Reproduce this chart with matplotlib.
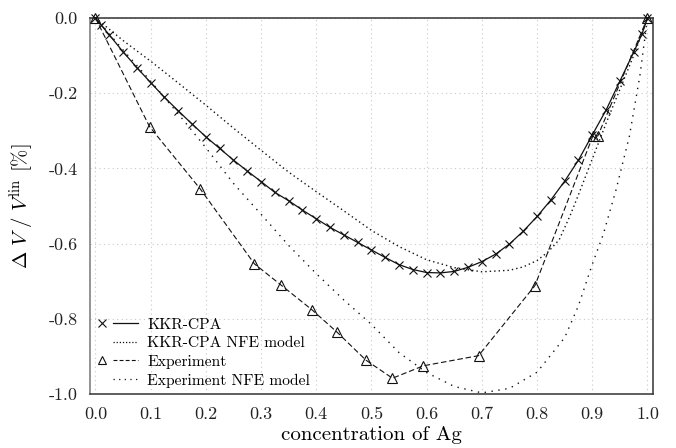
import matplotlib
matplotlib.use("Agg")
import matplotlib.pyplot as plt
from matplotlib.lines import Line2D
from matplotlib.legend_handler import HandlerBase

plt.rcParams['font.family'] = ['cmr10', 'DejaVu Serif']
plt.rcParams['mathtext.fontset'] = 'cm'
plt.rcParams['axes.unicode_minus'] = False
plt.rcParams['axes.formatter.use_mathtext'] = True

# ---- data ----
kkr_x = [0, 0.01, 0.025, 0.05, 0.075, 0.1, 0.125, 0.15, 0.175, 0.2, 0.225, 0.25,
         0.275, 0.3, 0.325, 0.35, 0.375, 0.4, 0.425, 0.45, 0.475, 0.5, 0.525, 0.55,
         0.575, 0.6, 0.625, 0.65, 0.675, 0.7, 0.725, 0.75, 0.775, 0.8, 0.825, 0.85,
         0.875, 0.9, 0.925, 0.95, 0.975, 0.99, 1.0]
kkr_y = [0, -0.018, -0.045, -0.09, -0.132, -0.172, -0.211, -0.247, -0.282, -0.316,
         -0.347, -0.378, -0.407, -0.435, -0.464, -0.486, -0.511, -0.534, -0.557,
         -0.577, -0.597, -0.617, -0.637, -0.656, -0.669, -0.677, -0.678, -0.674,
         -0.663, -0.648, -0.628, -0.601, -0.567, -0.528, -0.484, -0.434, -0.378,
         -0.311, -0.245, -0.168, -0.091, -0.043, 0]

kkr_nfe_x = [0, 0.05, 0.1, 0.15, 0.2, 0.25, 0.3, 0.35, 0.4, 0.45, 0.5, 0.55, 0.6,
             0.65, 0.7, 0.75, 0.775, 0.8, 0.82, 0.84, 0.86, 0.875, 0.9, 0.925, 0.95,
             0.975, 1.0]
kkr_nfe_y = [0, -0.06, -0.115, -0.173, -0.232, -0.293, -0.352, -0.41, -0.462,
             -0.513, -0.565, -0.608, -0.643, -0.664, -0.675, -0.671, -0.662, -0.645,
             -0.622, -0.59, -0.525, -0.47, -0.375, -0.28, -0.19, -0.10, 0]

exp_x = [0, 0.098, 0.19, 0.288, 0.336, 0.393, 0.438, 0.49, 0.538, 0.594, 0.694,
         0.796, 0.901, 0.910, 1.0]
exp_y = [0, -0.289, -0.455, -0.654, -0.71, -0.777, -0.836, -0.91, -0.958, -0.925,
         -0.898, -0.712, -0.314, -0.314, 0]

exp_nfe_x = [0, 0.05, 0.1, 0.15, 0.2, 0.25, 0.3, 0.35, 0.4, 0.45, 0.5, 0.55, 0.6,
             0.65, 0.7, 0.75, 0.8, 0.85, 0.875, 0.9, 0.92, 0.943, 0.967, 0.986, 1.0]
exp_nfe_y = [0, -0.085, -0.168, -0.255, -0.345, -0.44, -0.522, -0.605, -0.68, -0.75,
             -0.815, -0.89, -0.943, -0.98, -0.997, -0.985, -0.942, -0.85, -0.765,
             -0.655, -0.575, -0.457, -0.316, -0.156, 0]

xticks = [0.0, 0.1, 0.2, 0.3, 0.4, 0.5, 0.6, 0.7, 0.8, 0.9, 1.0]
xtick_labels = ["0.0", "0.1", "0.2", "0.3", "0.4", "0.5", "0.6", "0.7", "0.8", "0.9", "1.0"]
yticks = [0.0, -0.2, -0.4, -0.6, -0.8, -1.0]
ytick_labels = ["0.0", "-0.2", "-0.4", "-0.6", "-0.8", "-1.0"]

legend_labels = ["KKR-CPA", "KKR-CPA NFE model", "Experiment", "Experiment NFE model"]


class MarkerThenLine(HandlerBase):
    """Marker at the left, line segment on the right of the handle box."""
    def __init__(self, marker=None, ls='-', lw=0.9, **kw):
        super().__init__(**kw)
        self.marker = marker
        self.ls = ls
        self.lw = lw

    def create_artists(self, legend, orig_handle, xdescent, ydescent, width, height,
                       fontsize, trans):
        y = height / 2.0 - ydescent
        x0 = -xdescent
        arts = []
        line = Line2D([x0 + 0.40 * width, x0 + width], [y, y],
                      color=orig_handle.get_color(), lw=self.lw, ls=self.ls)
        line.set_transform(trans)
        arts.append(line)
        if self.marker is not None:
            mk = Line2D([x0 + 0.14 * width], [y], ls='none', marker=self.marker,
                        ms=5.5, mew=0.8, color=orig_handle.get_color(), mfc='none')
            mk.set_transform(trans)
            arts.append(mk)
        return arts


# ---- figure ----
fig = plt.figure(figsize=(6.76, 4.48), dpi=100)
ax = fig.add_axes([0.133, 0.1205, 0.833, 0.8395])

lc = '#111111'
l1, = ax.plot(kkr_x, kkr_y, color=lc, lw=0.9, marker='x', ms=5.5, mew=0.8,
              clip_on=False, zorder=4)
l2, = ax.plot(kkr_nfe_x, kkr_nfe_y, color=lc, lw=1.0, ls=(0, (1, 2.2)), zorder=3)
l3, = ax.plot(exp_x, exp_y, color=lc, lw=0.8, ls=(0, (5, 2.5)), marker='^',
              ms=7.5, mfc='none', mew=0.8, clip_on=False, zorder=4)
l4, = ax.plot(exp_nfe_x, exp_nfe_y, color=lc, lw=1.0, ls=(0, (1, 4)), zorder=3)

ax.set_xlim(-0.01, 1.01)
ax.set_ylim(-1.0, 0.0)
ax.set_xticks(xticks)
ax.set_xticklabels(xtick_labels)
ax.set_yticks(yticks)
ax.set_yticklabels(ytick_labels)
ax.tick_params(length=0, labelsize=13, pad=9, colors='#222222')
ax.grid(True, color='#c8c8c8', lw=0.8, ls=(0, (1, 3)))
for s in ax.spines.values():
    s.set_linewidth(1.1)
    s.set_color('#333333')
ax.spines['left'].set_color('#777777')

ax.set_xlabel("concentration of Ag", fontsize=15, labelpad=3)
ax.set_ylabel(r"$\Delta\ V\ /\ V^{\rm lin}$ [%]", fontsize=15, labelpad=8)

hl1 = Line2D([], [], color=lc)
hl2 = Line2D([], [], color=lc)
hl3 = Line2D([], [], color=lc)
hl4 = Line2D([], [], color=lc)
leg = ax.legend([hl1, hl2, hl3, hl4], legend_labels,
                handler_map={hl1: MarkerThenLine(marker='x', ls='-', lw=0.9),
                             hl2: MarkerThenLine(ls=(0, (1, 1.5)), lw=0.9),
                             hl3: MarkerThenLine(marker='^', ls=(0, (3.5, 2)), lw=0.8),
                             hl4: MarkerThenLine(ls=(0, (1, 3.5)), lw=0.9)},
                loc='lower left', frameon=False, fontsize=11.2, handlelength=2.7,
                handletextpad=0.6, labelspacing=0.3, borderaxespad=0.15,
                borderpad=0.25)

fig.savefig("out.png", dpi=100)
